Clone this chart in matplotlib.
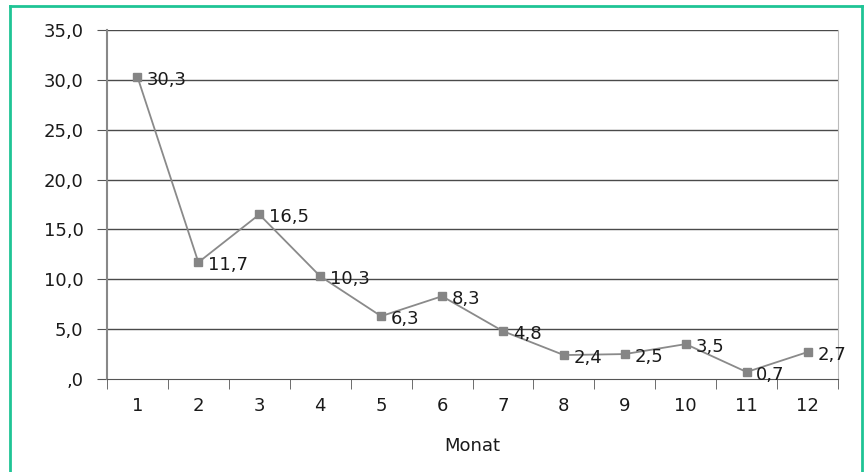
import matplotlib
matplotlib.use('Agg')
import matplotlib.pyplot as plt
from matplotlib.lines import Line2D

# data
months = [1, 2, 3, 4, 5, 6, 7, 8, 9, 10, 11, 12]
values = [30.3, 11.7, 16.5, 10.3, 6.3, 8.3, 4.8, 2.4, 2.5, 3.5, 0.7, 2.7]
y_ticks = [0, 5, 10, 15, 20, 25, 30, 35]

plt.rcParams['font.family'] = ['DejaVu Sans']
text_col = '#1a1a1a'
fs = 13

fig = plt.figure(figsize=(8.65, 4.72), dpi=100)
ax = fig.add_axes([107 / 865, 1 - 379 / 472, (838 - 107) / 865, (379 - 30) / 472])

# green frame (left, top, right)
green = '#1fc495'
x0, x1, yt = 10 / 865, 862 / 865, 1 - 5.5 / 472
for xs, ys in [([x0, x0], [0, yt]), ([x0, x1], [yt, yt]), ([x1, x1], [yt, 0])]:
    fig.add_artist(Line2D(xs, ys, color=green, lw=2, transform=fig.transFigure))

# horizontal gridlines
for v in y_ticks[1:]:
    ax.axhline(v, color='#4a4a4a', lw=1, zorder=1)

ax.plot(months, values, color='#8a8a8a', lw=1.3, marker='s', markersize=6,
        markerfacecolor='#858585', markeredgecolor='#858585', zorder=3)

for m, v in zip(months, values):
    ax.annotate(f'{v:.1f}'.replace('.', ','), (m, v), xytext=(7, -2),
                textcoords='offset points', va='center', ha='left',
                fontsize=fs, color=text_col, zorder=4)

ax.set_xlim(0.5, 12.5)
ax.set_ylim(0, 35)
ax.set_yticks(y_ticks)
ax.set_yticklabels([f'{v:.1f}'.replace('.', ',') if v else ',0' for v in y_ticks],
                   fontsize=fs, color=text_col)
ax.set_xticks(months)
ax.set_xticklabels([str(m) for m in months], fontsize=fs, color=text_col)
ax.set_xticks([m + 0.5 for m in [0] + months], minor=True)
ax.tick_params(axis='x', which='major', length=0, pad=13)
ax.tick_params(axis='x', which='minor', length=7, color='#555555', direction='out')
ax.tick_params(axis='y', length=7, color='#555555', direction='out', pad=10)

for s in ['left', 'bottom', 'right', 'top']:
    ax.spines[s].set_color('#888888')
ax.spines['left'].set_linewidth(1.5)
ax.spines['bottom'].set_color('#555555')
ax.spines['right'].set_color('#bbbbbb')
ax.spines['top'].set_visible(False)

ax.set_xlabel('Monat', fontsize=fs, color=text_col, labelpad=16)

plt.savefig('out.png', dpi=100)
